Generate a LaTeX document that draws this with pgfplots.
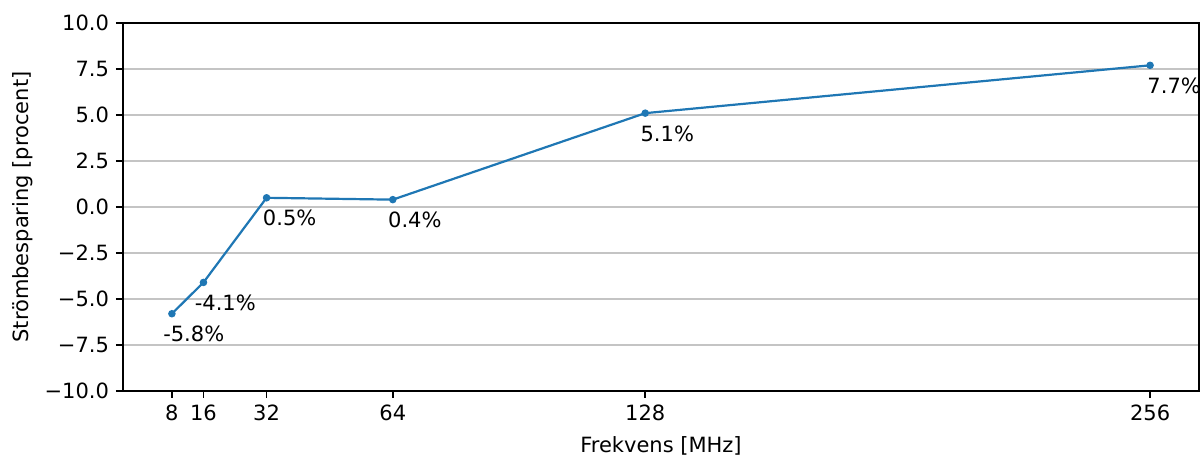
\documentclass[border=0pt]{standalone}
\usepackage{fontspec}
\setmainfont{DejaVu Sans}
\usepackage{pgfplots}
\pgfplotsset{compat=1.18}
\definecolor{mplblue}{HTML}{1F77B4}
\definecolor{gridgray}{HTML}{C4C4C4}
\begin{document}
\begin{tikzpicture}
\begin{axis}[
  scale only axis,
  width=538pt, height=184pt,
  xmin=-4.4, xmax=268.4,
  ymin=-10, ymax=10,
  xtick={8,16,32,64,128,256},
  xticklabels={8,16,32,64,128,256},
  ytick={-10,-7.5,-5,-2.5,0,2.5,5,7.5,10},
  yticklabels={−10.0,−7.5,−5.0,−2.5,0.0,2.5,5.0,7.5,10.0},
  ymajorgrids,
  grid style={gridgray, line width=0.7pt},
  axis line style={line width=0.8pt},
  tick style={black, line width=0.8pt},
  tick align=outside,
  major tick length=3.5pt,
  xtick pos=bottom, ytick pos=left,
  tick label style={font=\fontsize{10.5}{12.5}\selectfont},
  label style={font=\fontsize{10.5}{12.5}\selectfont},
  xlabel={Frekvens [MHz]},
  ylabel={Strömbesparing [procent]},
  xlabel style={yshift=-1pt},
  ylabel style={yshift=-1pt},
  clip=false,
]
\addplot[mplblue, line width=1.1pt, mark=*, mark size=1.3pt, mark options={solid, fill=mplblue, draw=mplblue}]
  coordinates {(8,-5.8) (16,-4.1) (32,0.5) (64,0.4) (128,5.1) (256,7.7)};
\begin{scope}[every node/.style={anchor=north west, inner sep=0pt, font=\fontsize{10.5}{12.5}\selectfont}]
\node[xshift=-4.5pt, yshift=-6pt] at (axis cs:8,-5.8) {-5.8\%};
\node[xshift=-4.5pt, yshift=-6pt] at (axis cs:16,-4.1) {-4.1\%};
\node[xshift=-2pt, yshift=-6pt] at (axis cs:32,0.5) {0.5\%};
\node[xshift=-2.5pt, yshift=-6pt] at (axis cs:64,0.4) {0.4\%};
\node[xshift=-2.5pt, yshift=-6pt] at (axis cs:128,5.1) {5.1\%};
\node[xshift=-1.5pt, yshift=-6pt] at (axis cs:256,7.7) {7.7\%};
\end{scope}
\end{axis}
\path ([xshift=-61.5pt,yshift=-32pt]current axis.south west) rectangle ([xshift=1pt,yshift=11.5pt]current axis.north east);
\end{tikzpicture}
\end{document}
